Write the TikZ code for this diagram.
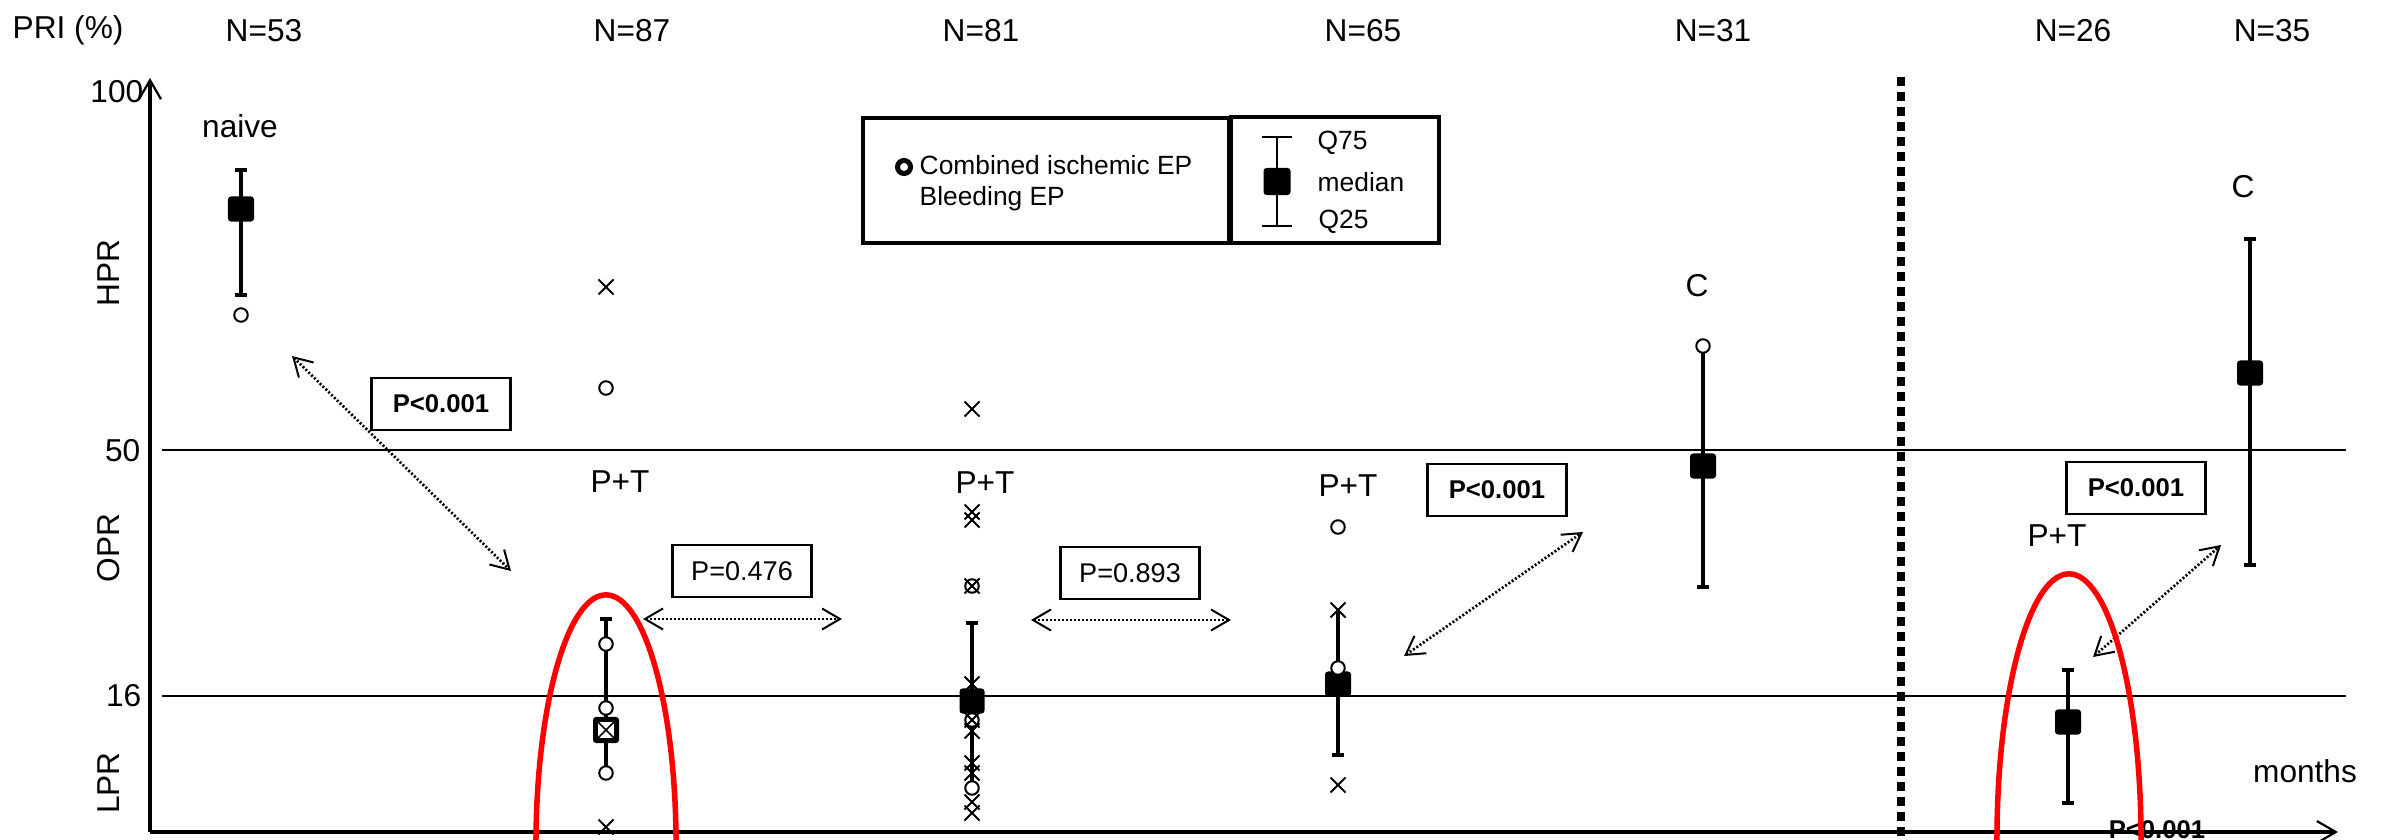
\documentclass[tikz,border=0pt]{standalone}
\usepackage{fontspec}
\setmainfont{Liberation Sans}
\usetikzlibrary{arrows.meta,shapes.misc}

\tikzset{
  lab/.style={font=\fontsize{9}{10}\selectfont, inner sep=0pt},
  legtxt/.style={font=\fontsize{7.5}{9}\selectfont, inner sep=0pt},
  axisline/.style={line width=0.035cm, -{Straight Barb[length=0.19cm,width=0.22cm,line width=0.022cm]}},
  refline/.style={line width=0.025cm},
  whisk/.style={line width=0.04cm},
  capbar/.style={line width=0.045cm},
  medsq/.style={rectangle, fill=black, rounded corners=0.03cm, minimum width=0.26cm, minimum height=0.25cm, inner sep=0pt},
  ring/.style={circle, draw, fill=white, line width=0.02cm, minimum size=0.135cm, inner sep=0pt},
  xm/.style={cross out, draw, line width=0.02cm, minimum size=0.13cm, inner sep=0pt},
  xbox/.style={rectangle, fill=white, minimum size=0.16cm, inner sep=0pt,
    path picture={\draw[line width=0.016cm]
      (path picture bounding box.north west) -- (path picture bounding box.south east)
      (path picture bounding box.north east) -- (path picture bounding box.south west);}},
  pbox/.style={draw, line width=0.025cm, minimum width=1.39cm, minimum height=0.52cm, inner sep=0pt,
    font=\fontsize{7.7}{9}\selectfont},
  pboxb/.style={pbox, font=\fontsize{7.3}{9}\selectfont\bfseries},
  cmp/.style={line width=0.027cm, dash pattern=on 0.02cm off 0.02cm,
    {Straight Barb[length=0.18cm,width=0.21cm,line width=0.02cm]}-{Straight Barb[length=0.18cm,width=0.21cm,line width=0.02cm]}},
  sepline/.style={line width=0.08cm, dash pattern=on 0.09cm off 0.06cm},
  hilite/.style={draw=red, line width=0.055cm},
  legbox/.style={draw, line width=0.048cm, inner sep=0pt},
}

\begin{document}
\begin{tikzpicture}[x=0.01cm, y=-0.01cm]
\useasboundingbox (0,0) rectangle (2394,840);
\clip (0,0) rectangle (2394,840);

% axis titles and group sizes
\node[lab, anchor=base west] (pri) at (12,39) {PRI (\%)};
\node[lab, anchor=base] (n1) at (264,42) {N=53};
\node[lab, anchor=base] (n2) at (632,42) {N=87};
\node[lab, anchor=base] (n3) at (981,42) {N=81};
\node[lab, anchor=base] (n4) at (1363,42) {N=65};
\node[lab, anchor=base] (n5) at (1713,42) {N=31};
\node[lab, anchor=base] (n6) at (2073,42) {N=26};
\node[lab, anchor=base] (n7) at (2272,42) {N=35};

% tick labels
\node[lab, anchor=base east] (t100) at (144,103) {100};
\node[lab, anchor=base east] (t50) at (141,462) {50};
\node[lab, anchor=base east] (t16) at (142,706) {16};

% zone labels
\node[lab, rotate=90] (hpr) at (109,273) {HPR};
\node[lab, rotate=90] (opr) at (109,548) {OPR};
\node[lab, rotate=90] (lpr) at (109,783) {LPR};

% cut-off lines
\coordinate (l50a) at (162,450); \coordinate (l50b) at (2346,450);
\coordinate (l16a) at (162,696); \coordinate (l16b) at (2346,696);
\draw[refline] (l50a) -- (l50b);
\draw[refline] (l16a) -- (l16b);

% separator
\coordinate (sept) at (1901,77); \coordinate (sepb) at (1901,840);
\draw[sepline] (sept) -- (sepb);

% bottom p-value, partly under the axis
\node[font=\fontsize{7.3}{9}\selectfont\bfseries, inner sep=0pt, anchor=base] (pbot) at (2157,838) {P<0.001};

% axes
\coordinate (org) at (150,832);
\coordinate (ytop) at (150,78);
\coordinate (xend) at (2338,832);
\draw[axisline] (org) -- (ytop);
\draw[axisline] (org) -- (xend);
\node[lab, anchor=base] (months) at (2305,782) {months};

% group labels
\node[lab, anchor=base] (gnaive) at (240,138) {naive};
\node[lab, anchor=base] (g2) at (620,492) {P+T};
\node[lab, anchor=base] (g3) at (985,493) {P+T};
\node[lab, anchor=base] (g4) at (1348,497) {P+T};
\node[lab, anchor=base] (g5) at (1697,297) {C};
\node[lab, anchor=base] (g6) at (2057,547) {P+T};
\node[lab, anchor=base] (g7) at (2243,198) {C};

% group 1: naive
\coordinate (w1t) at (241,170); \coordinate (w1b) at (241,295);
\draw[whisk] (w1t) -- (w1b);
\draw[capbar] ([xshift=-0.06cm]w1t) -- ([xshift=0.06cm]w1t);
\draw[capbar] ([xshift=-0.06cm]w1b) -- ([xshift=0.06cm]w1b);
\node[medsq] (m1) at (241,209) {};
\node[ring] (c1a) at (241,315) {};

% group 2
\node[xm] (x2a) at (606,287) {};
\node[ring] (c2a) at (606,388) {};
\coordinate (w2t) at (606,619); \coordinate (w2b) at (606,773);
\draw[whisk] (w2t) -- (w2b);
\draw[capbar] ([xshift=-0.06cm]w2t) -- ([xshift=0.06cm]w2t);
\node[ring] (c2b) at (606,644) {};
\node[ring] (c2c) at (606,708) {};
\node[medsq, minimum height=0.26cm] (m2) at (606,730) {};
\node[xbox] (m2x) at (m2) {};
\node[ring] (c2d) at (606,773) {};
\node[xm] (x2b) at (606,827) {};

% group 3
\node[xm] (x3a) at (972,409) {};
\node[xm] (x3b) at (972,520) {};
\node[xm] (x3c) at (972,512) {};
\node[ring] (c3a) at (972,586) {};
\node[xm] (x3d) at (972,586) {};
\coordinate (w3t) at (972,623); \coordinate (w3b) at (972,782);
\draw[whisk] (w3t) -- (w3b);
\draw[capbar] ([xshift=-0.06cm]w3t) -- ([xshift=0.06cm]w3t);
\node[xm] (x3e) at (972,684) {};
\node[medsq, minimum width=0.25cm] (m3) at (972,701) {};
\node[ring] (c3b) at (972,720) {};
\node[xm] (x3f) at (972,720) {};
\node[xm] (x3g) at (972,731) {};
\node[xm] (x3h) at (972,763) {};
\node[xm] (x3i) at (972,773) {};
\node[ring] (c3c) at (972,788) {};
\node[xm] (x3j) at (972,802) {};
\node[xm] (x3k) at (972,813) {};

% group 4
\node[ring] (c4a) at (1338,527) {};
\coordinate (w4t) at (1338,612); \coordinate (w4b) at (1338,755);
\draw[whisk] (w4t) -- (w4b);
\draw[capbar] ([xshift=-0.06cm]w4b) -- ([xshift=0.06cm]w4b);
\node[xm] (x4a) at (1338,610) {};
\node[medsq] (m4) at (1338,684) {};
\node[ring] (c4b) at (1338,668) {};
\node[xm] (x4b) at (1338,785) {};

% group 5
\coordinate (w5t) at (1703,350); \coordinate (w5b) at (1703,587);
\draw[whisk] (w5t) -- (w5b);
\draw[capbar] ([xshift=-0.06cm]w5b) -- ([xshift=0.06cm]w5b);
\node[ring] (c5a) at (1703,346) {};
\node[medsq] (m5) at (1703,466) {};

% group 6
\coordinate (w6t) at (2068,670); \coordinate (w6b) at (2068,803);
\draw[whisk] (w6t) -- (w6b);
\draw[capbar] ([xshift=-0.06cm]w6t) -- ([xshift=0.06cm]w6t);
\draw[capbar] ([xshift=-0.06cm]w6b) -- ([xshift=0.06cm]w6b);
\node[medsq] (m6) at (2068,722) {};

% group 7
\coordinate (w7t) at (2250,239); \coordinate (w7b) at (2250,565);
\draw[whisk] (w7t) -- (w7b);
\draw[capbar] ([xshift=-0.06cm]w7t) -- ([xshift=0.06cm]w7t);
\draw[capbar] ([xshift=-0.06cm]w7b) -- ([xshift=0.06cm]w7b);
\node[medsq] (m7) at (2250,373) {};

% p-value boxes
\node[pboxb] (pa) at (441,404) {P<0.001};
\node[pbox]  (pb) at (742,571) {P=0.476};
\node[pbox]  (pc) at (1130,573) {P=0.893};
\node[pboxb] (pd) at (1497,490) {P<0.001};
\node[pboxb] (pe) at (2136,488) {P<0.001};

% comparison arrows
\coordinate (a1s) at (292,356); \coordinate (a1e) at (511,571);
\coordinate (a2s) at (643,619); \coordinate (a2e) at (842,619);
\coordinate (a3s) at (1031,620); \coordinate (a3e) at (1231,620);
\coordinate (a4s) at (1404,656); \coordinate (a4e) at (1583,532);
\coordinate (a5s) at (2093,657); \coordinate (a5e) at (2221,545);
\draw[cmp] (a1s) -- (a1e);
\draw[cmp] (a2s) -- (a2e);
\draw[cmp] (a3s) -- (a3e);
\draw[cmp] (a4s) -- (a4e);
\draw[cmp] (a5s) -- (a5e);

% legend
\node[legbox, minimum width=3.66cm, minimum height=1.25cm] (legL) at (1046,180.5) {};
\node[legbox, minimum width=2.08cm, minimum height=1.26cm] (legR) at (1335,180) {};
\node[circle, draw, line width=0.05cm, minimum size=0.13cm, inner sep=0pt] (legring) at (904,167) {};
\node[legtxt, anchor=base west] (legc) at (919,175) {Combined ischemic EP};
\node[legtxt, anchor=base west] (legb) at (919,206) {Bleeding EP};
\coordinate (lwt) at (1277,137); \coordinate (lwb) at (1277,226);
\draw[line width=0.018cm] (lwt) -- (lwb);
\draw[line width=0.018cm] ([xshift=-0.15cm]lwt) -- ([xshift=0.15cm]lwt);
\draw[line width=0.018cm] ([xshift=-0.15cm]lwb) -- ([xshift=0.15cm]lwb);
\node[medsq, minimum width=0.27cm, minimum height=0.27cm] (legm) at (1277,181.5) {};
\node[legtxt, anchor=base west] (lq75) at (1317,150) {Q75};
\node[legtxt, anchor=base west] (lmed) at (1317,192) {median};
\node[legtxt, anchor=base west] (lq25) at (1318,229) {Q25};

% highlighted groups
\draw[hilite] (606,845) ellipse [x radius=0.7cm, y radius=2.5cm];
\draw[hilite] (2069,840) ellipse [x radius=0.72cm, y radius=2.66cm];
\end{tikzpicture}
\end{document}
